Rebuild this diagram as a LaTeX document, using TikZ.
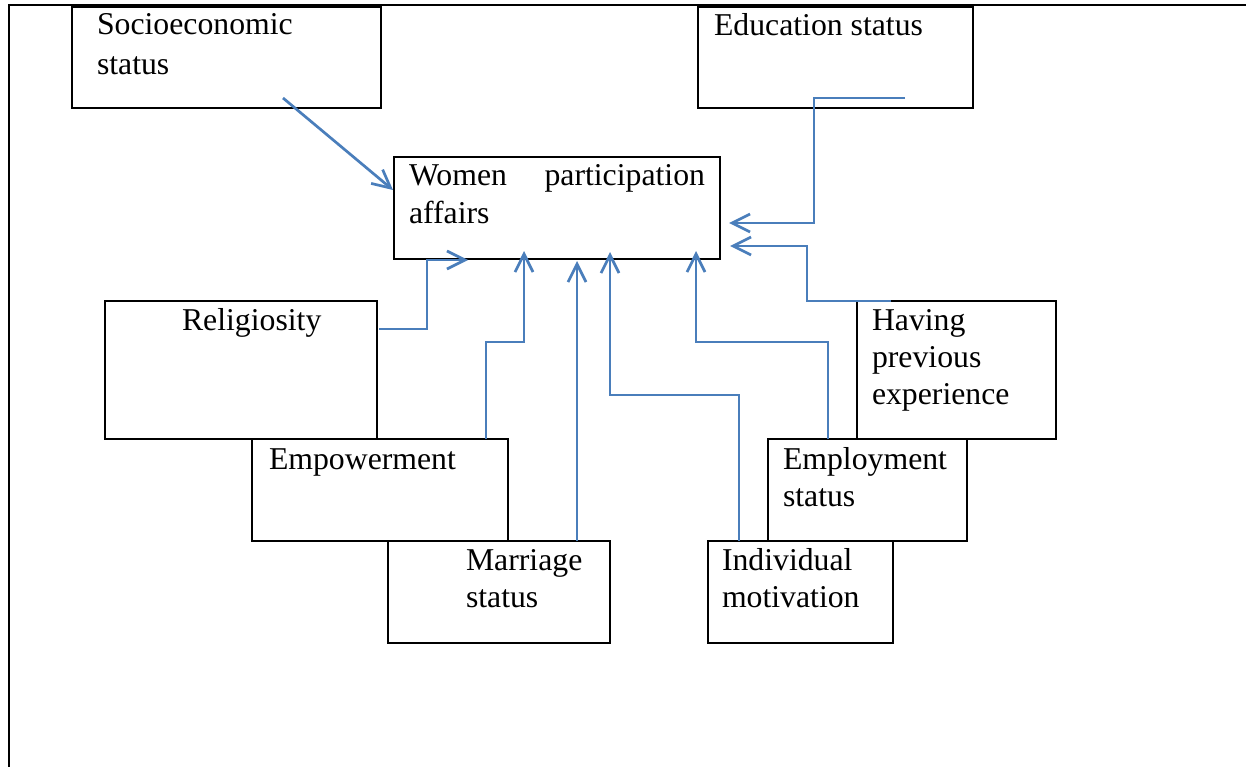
\documentclass[tikz,border=0pt]{standalone}
\usepackage{fontspec}
\setmainfont{Liberation Serif}
\usetikzlibrary{arrows.meta,calc}
\definecolor{arrowblue}{RGB}{74,126,187}
\newcommand{\lbfont}{\fontsize{31.75}{37}\selectfont}
\tikzset{
  box/.style={draw=black, line width=2.7pt, rectangle, inner sep=0pt, outer sep=0pt},
  lbl/.style={inner sep=0pt, outer sep=0pt, anchor=base west, font=\lbfont},
  conn/.style={draw=arrowblue, line width=2.7pt, -{Straight Barb[length=18pt,width=18pt]}},
  frameline/.style={draw=black, line width=2.8pt}
}
\newcommand{\boxat}[5]{\node[box, minimum width={#4-#2}, minimum height={#5-#3}] (#1) at ({(#2+#4)/2},{(#3+#5)/2}) {};}
\begin{document}
\begin{tikzpicture}[x=1pt,y=-1pt]
\useasboundingbox (0,0) rectangle (1246,767);
% outer frame (table cell border)
\draw[frameline] (9,767) -- (9,5) -- (1246,5);
% boxes
\boxat{soc}{72}{7}{381}{108}
\boxat{edu}{698}{7}{973}{108}
\boxat{wom}{394}{157}{720}{259}
\boxat{rel}{105}{301}{377}{439}
\boxat{hav}{857}{301}{1056}{439}
\boxat{emp}{252}{439}{508}{541}
\boxat{empl}{768}{439}{967}{541}
\boxat{mar}{388}{541}{610}{643}
\boxat{ind}{708}{541}{893}{643}
% labels
\node[lbl] (soct) at (97,35) {\begin{tabular}[t]{@{}l@{}}Socioeconomic\\[3pt]status\end{tabular}};
\node[lbl] (edut) at (714,36) {Education status};
\node[lbl] (womt) at (409,186) {\begin{tabular}[t]{@{}l@{}}\hbox to 296pt{Women\hfill participation}\\affairs\end{tabular}};
\node[lbl] (relt) at (182,330) {Religiosity};
\node[lbl] (havt) at (872,330) {\begin{tabular}[t]{@{}l@{}}Having\\previous\\experience\end{tabular}};
\node[lbl] (empt) at (269,469) {Empowerment};
\node[lbl] (emplt) at (783,469) {\begin{tabular}[t]{@{}l@{}}Employment\\status\end{tabular}};
\node[lbl] (mart) at (466,570) {\begin{tabular}[t]{@{}l@{}}Marriage\\status\end{tabular}};
\node[lbl] (indt) at (722,570) {\begin{tabular}[t]{@{}l@{}}Individual\\motivation\end{tabular}};
% connector start points
\coordinate (socS) at ($(soc.south west)+(211,-10)$);
\coordinate (eduS) at ($(edu.south west)+(207,-10)$);
\coordinate (havS) at ($(hav.north west)+(34,0)$);
\coordinate (emplS) at ($(empl.north west)+(60,0)$);
\coordinate (indS) at ($(ind.north west)+(31,0)$);
\coordinate (marS) at ($(mar.north west)+(189,0)$);
\coordinate (empS) at ($(emp.north west)+(234,0)$);
\coordinate (relS) at ($(rel.north east)+(2,28)$);
% connectors
\draw[conn] (socS) -- ($(wom.north west)+(-1,33)$);
\draw[conn] (eduS) -- ++(-91,0) |- ($(wom.east)+(9,15)$);
\draw[conn] (havS) -- ++(-84,0) |- ($(wom.east)+(10,38)$);
\draw[conn] (emplS) -- ++(0,-97) -| ($(wom.south east)+(-24,-8)$);
\draw[conn] (indS) -- ++(0,-146) -| ($(wom.south west)+(216,-7)$);
\draw[conn] (marS) -- ($(wom.south west)+(183,2)$);
\draw[conn] (empS) -- ++(0,-97) -| ($(wom.south west)+(130,-8)$);
\draw[conn] (relS) -- ++(48,0) |- ($(wom.south west)+(74,1)$);
\end{tikzpicture}
\end{document}
